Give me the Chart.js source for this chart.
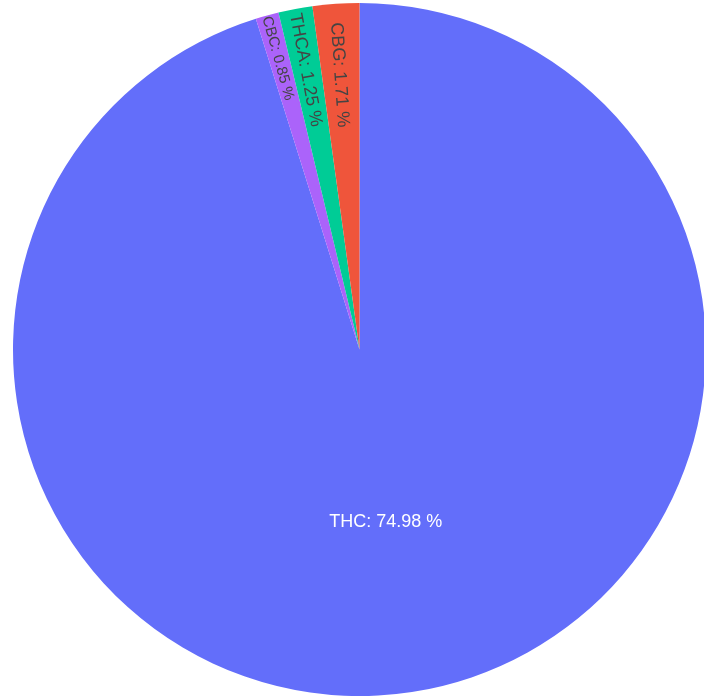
<!DOCTYPE html>
<html><head><meta charset="utf-8">
<script src="https://cdn.jsdelivr.net/npm/chart.js@4"></script>
<style>
html,body{margin:0;padding:0;overflow:hidden;background:#fff;width:704px;height:698px}
#wrap{position:absolute;left:0;top:0;width:720px;height:698px}
</style></head>
<body><div id="wrap"><canvas id="c"></canvas></div>
<script>
const labels = ['THC', 'CBC', 'THCA', 'CBG'];
const values = [74.98, 0.85, 1.25, 1.71];
const colors = ['#636efa', '#ab63fa', '#00cc96', '#EF553B'];
const textColors = ['#ffffff', '#444444', '#444444', '#444444'];

const TEXTPAD = 3, BASE = 18, FONT = '"Liberation Sans", Arial, sans-serif';

function normRot(r) {
  while (r > Math.PI / 2) r -= Math.PI;
  while (r <= -Math.PI / 2) r += Math.PI;
  return r;
}

const insideText = {
  id: 'insideText',
  afterDatasetsDraw(chart) {
    const ctx = chart.ctx;
    const meta = chart.getDatasetMeta(0);
    const total = values.reduce((a, b) => a + b, 0);
    meta.data.forEach((arc, i) => {
      const p = arc.getProps(['x', 'y', 'startAngle', 'endAngle', 'outerRadius'], true);
      const R = p.outerRadius;
      const mid = (p.startAngle + p.endAngle) / 2;
      const half = Math.PI * Math.min(values[i] / total, 0.5);
      const text = labels[i] + ': ' + values[i].toFixed(2) + ' %';
      ctx.save();
      ctx.font = BASE + 'px ' + FONT;
      const W = ctx.measureText(text).width;
      const asc = BASE * 0.905, desc = BASE * 0.212;
      const H = BASE * 1.15;
      const rIns = Math.min(1 / (1 + 1 / Math.sin(half)), 0.5);
      const diam = Math.hypot(W, H);
      let t = { scale: rIns * R * 2 / diam, rCenter: 1 - rIns, rotate: 0 };
      if (t.scale < 1) {
        const r = Math.max(0, R - 2 * TEXTPAD);
        const a = W / H;
        const q = a + 1 / (2 * Math.tan(half));
        const s = r * Math.min(1 / (Math.sqrt(q * q + 0.5) + q), 1 / (Math.sqrt(a * a + 0.5) + a));
        const rad = { scale: 2 * s / H, rCenter: Math.cos(s / r) - a * s / r, rotate: normRot(mid + Math.PI) };
        if (rad.scale > t.scale) t = rad;
      }
      const sc = Math.min(1, t.scale);
      const cx = p.x + Math.cos(mid) * R * t.rCenter;
      const cy = p.y + Math.sin(mid) * R * t.rCenter;
      ctx.translate(cx, cy);
      ctx.rotate(t.rotate);
      ctx.scale(sc, sc);
      ctx.fillStyle = textColors[i];
      ctx.textAlign = 'center';
      ctx.textBaseline = 'alphabetic';
      ctx.fillText(text, 0, (asc - desc) / 2);
      ctx.restore();
    });
  }
};

new Chart(document.getElementById('c'), {
  type: 'pie',
  data: {
    labels: labels,
    datasets: [{
      data: values,
      backgroundColor: colors,
      borderWidth: 0,
      hoverOffset: 0
    }]
  },
  options: {
    responsive: true,
    maintainAspectRatio: false,
    animation: false,
    layout: { padding: { left: 13, right: 14, top: 3, bottom: 2 } },
    plugins: { legend: { display: false }, tooltip: { enabled: false } }
  },
  plugins: [insideText]
});
</script>
</body></html>
